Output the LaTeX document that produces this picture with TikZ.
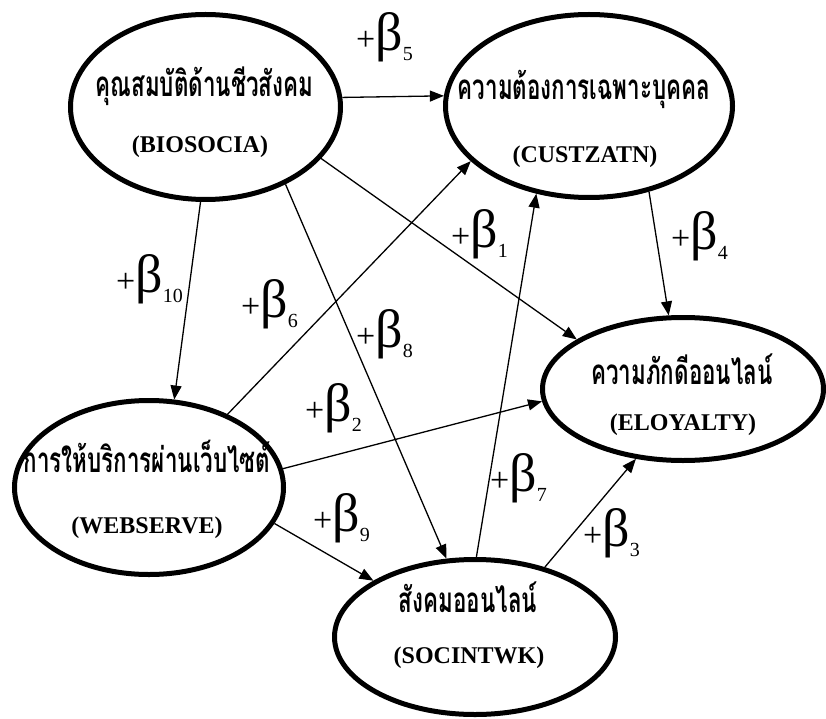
\documentclass[tikz,border=0pt]{standalone}
\usepackage{fontspec}
\setmainfont{Liberation Serif}
\newfontfamily\thaifont[Script=Thai]{Loma}
\usetikzlibrary{shapes.geometric,arrows.meta}
\newcommand{\thtext}[1]{\scalebox{0.64}[1]{\thaifont\bfseries\fontsize{35}{35}\selectfont #1}}
\newcommand{\entext}[1]{{\bfseries\fontsize{24}{24}\selectfont #1}}
\newcommand{\blab}[1]{{\fontsize{34}{34}\selectfont +}{\fontsize{54}{54}\selectfont β}\raisebox{-10pt}{\fontsize{20}{20}\selectfont #1}}
\begin{document}
\begin{tikzpicture}[x=1pt,y=-1pt,
  construct/.style={ellipse,draw,line width=5pt,inner sep=0pt},
  thl/.style={anchor=base,inner sep=0pt},
  enl/.style={anchor=base,inner sep=0pt},
  coef/.style={anchor=base west,inner sep=0pt},
  path/.style={line width=1.3pt,-{Triangle[length=14pt,width=11pt]}}]
\useasboundingbox (0,0) rectangle (826,719);
% constructs
\node[construct,minimum width=270pt,minimum height=185pt] (bio) at (205.5,107) {};
\node[construct,minimum width=287pt,minimum height=183pt] (cus) at (589,106) {};
\node[construct,minimum width=281pt,minimum height=143pt] (elo) at (683,389) {};
\node[construct,minimum width=269pt,minimum height=174pt] (web) at (149,487.5) {};
\node[construct,minimum width=281pt,minimum height=155pt] (soc) at (475,637) {};
% texts
\node[thl] (bioTh) at (204.5,97) {\thtext{คุณสมบัติด้านชีวสังคม}};
\node[enl] (bioEn) at (200,153) {\entext{(BIOSOCIA)}};
\node[thl] (cusTh) at (584,100) {\thtext{ความต้องการเฉพาะบุคคล}};
\node[enl] (cusEn) at (585,163) {\entext{(CUSTZATN)}};
\node[thl] (eloTh) at (682,384) {\thtext{ความภักดีออนไลน์}};
\node[enl] (eloEn) at (683,430) {\entext{(ELOYALTY)}};
\node[thl] (webTh) at (147,472) {\thtext{การให้บริการผ่านเว็บไซต์}};
\node[enl] (webEn) at (147,533) {\entext{(WEBSERVE)}};
\node[thl] (socTh) at (468,612) {\thtext{สังคมออนไลน์}};
\node[enl] (socEn) at (469,663) {\entext{(SOCINTWK)}};
% paths
\draw[path] (bio.4.2) -- (cus.176.9);
\draw[path] (bio.-24.5) -- (elo.155.4);
\draw[path] (bio.-93.9) -- (web.74.4);
\draw[path] (web.43.3) -- (cus.205.8);
\draw[path] (bio.-44.8) -- (soc.110.3);
\draw[path] (web.8.7) -- (elo.185.1);
\draw[path] (web.-16.2) -- (soc.151.7);
\draw[path] (soc.89.3) -- (cus.-121.4);
\draw[path] (cus.-55.3) -- (elo.101.5);
\draw[path] (soc.45.8) -- (elo.-124.6);
% coefficients
\node[coef] (b5) at (356,51) {\blab{5}};
\node[coef] (b1) at (451,247) {\blab{1}};
\node[coef] (b10) at (116,292) {\blab{10}};
\node[coef] (b4) at (671,249) {\blab{4}};
\node[coef] (b6) at (241,317) {\blab{6}};
\node[coef] (b8) at (356,347) {\blab{8}};
\node[coef] (b2) at (305,421) {\blab{2}};
\node[coef] (b9) at (313,531) {\blab{9}};
\node[coef] (b7) at (490,491) {\blab{7}};
\node[coef] (b3) at (583,546) {\blab{3}};
\end{tikzpicture}
\end{document}
